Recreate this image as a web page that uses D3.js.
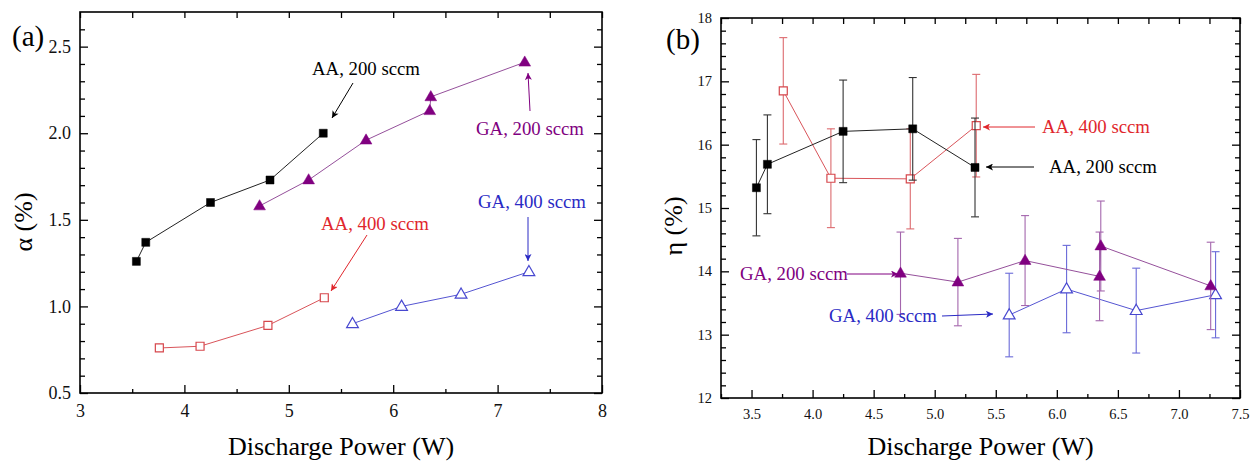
<!DOCTYPE html>
<html>
<head>
<meta charset="utf-8">
<script src="https://cdn.jsdelivr.net/npm/d3@7/dist/d3.min.js"></script>
<style>
  html, body { margin: 0; padding: 0; background: #fff; }
  svg { display: block; font-family: "Liberation Serif", "Times New Roman", serif; }
</style>
</head>
<body>
<svg id="chart" width="1258" height="462"></svg>
<script>
// ---- Data: discharge power (W) for each series ----
const powerAA200 = [3.54, 3.63, 4.25, 4.82, 5.33];
const powerAA400 = [3.76, 4.15, 4.80, 5.34];
const powerGA200 = [4.72, 5.19, 5.74, 6.35, 6.36, 7.26];
const powerGA400 = [5.61, 6.08, 6.65, 7.30];

// alpha (%) per series
const alphaAA200 = [1.26, 1.37, 1.60, 1.73, 2.00];
const alphaAA400 = [0.76, 0.77, 0.89, 1.05];
const alphaGA200 = [1.58, 1.73, 1.96, 2.13, 2.21, 2.41];
const alphaGA400 = [0.90, 1.00, 1.07, 1.20];

// eta (%) per series, with error bar half-widths
const etaAA200 = [15.32, 15.69, 16.21, 16.25, 15.64];
const etaErrAA200 = [0.76, 0.78, 0.81, 0.81, 0.78];
const etaAA400 = [16.85, 15.47, 15.46, 16.30];
const etaErrAA400 = [0.84, 0.78, 0.79, 0.81];
const etaGA200 = [13.97, 13.83, 14.17, 13.92, 14.40, 13.77];
const etaErrGA200 = [0.65, 0.69, 0.71, 0.70, 0.71, 0.69];
const etaGA400 = [13.31, 13.72, 13.38, 13.63];
const etaErrGA400 = [0.66, 0.69, 0.67, 0.68];

// tick labels
const alphaXTicks = [3, 4, 5, 6, 7, 8];
const alphaYTicks = [0.5, 1.0, 1.5, 2.0, 2.5];
const etaXTicks = [3.5, 4.0, 4.5, 5.0, 5.5, 6.0, 6.5, 7.0, 7.5];
const etaYTicks = [12, 13, 14, 15, 16, 17, 18];

const seriesLabels = ["AA, 200 sccm", "AA, 400 sccm", "GA, 200 sccm", "GA, 400 sccm"];

// ---- Styling ----
const C = {
  black: { mark: "#000", line: "#222", text: "#000", err: "#333" },
  red:   { mark: "#d6474c", line: "#d9545a", text: "#e0262c", err: "#dc6a6e" },
  purple:{ mark: "#800080", line: "#95509b", text: "#800080", err: "#a466ad" },
  blue:  { mark: "#4848d0", line: "#5555d2", text: "#2a2ac4", err: "#6a6ad8" }
};

const svg = d3.select("#chart");
const defs = svg.append("defs");
Object.entries(C).forEach(([k, c]) => {
  defs.append("marker")
    .attr("id", "arrow-" + k)
    .attr("viewBox", "0 0 10 10")
    .attr("refX", 10).attr("refY", 5)
    .attr("markerWidth", 9).attr("markerHeight", 7)
    .attr("markerUnits", "userSpaceOnUse")
    .attr("orient", "auto")
    .append("path").attr("d", "M0,0 L10,5 L0,10 L2.5,5 Z").attr("fill", c.text);
});

function drawAxes(g, x, y, o) {
  const w = x.range()[1], h = y.range()[0];
  const clean = s => { s.select(".domain").remove(); s.selectAll("line").attr("stroke", "#000").attr("stroke-width", 1.3); };
  // bottom
  g.append("g").attr("transform", `translate(0,${h})`)
    .call(d3.axisBottom(x).tickValues(o.xMinor).tickSize(-4).tickSizeOuter(0).tickFormat(""))
    .call(clean);
  g.append("g").attr("transform", `translate(0,${h})`)
    .call(d3.axisBottom(x).tickValues(o.xTicks).tickSize(-8).tickSizeOuter(0).tickPadding(o.xPad).tickFormat(o.xFmt))
    .call(clean)
    .call(s => s.selectAll("text").attr("font-size", o.fs).attr("fill", "#111").attr("font-family", "Liberation Serif, serif"));
  // top
  g.append("g")
    .call(d3.axisTop(x).tickValues(o.xMinor.concat(o.xTicks)).tickSize(-6).tickSizeOuter(0).tickFormat(""))
    .call(clean);
  // left
  g.append("g")
    .call(d3.axisLeft(y).tickValues(o.yMinor).tickSize(-5).tickSizeOuter(0).tickFormat(""))
    .call(clean);
  g.append("g")
    .call(d3.axisLeft(y).tickValues(o.yTicks).tickSize(-8).tickSizeOuter(0).tickPadding(o.yPad).tickFormat(o.yFmt))
    .call(clean)
    .call(s => s.selectAll("text").attr("font-size", o.fs).attr("fill", "#111").attr("font-family", "Liberation Serif, serif"));
  // right
  g.append("g").attr("transform", `translate(${w},0)`)
    .call(d3.axisRight(y).tickValues(o.yMinor).tickSize(-5).tickSizeOuter(0).tickFormat(""))
    .call(clean);
  g.append("g").attr("transform", `translate(${w},0)`)
    .call(d3.axisRight(y).tickValues(o.yTicks).tickSize(-8).tickSizeOuter(0).tickFormat(""))
    .call(clean);
  g.append("rect").attr("x", 0).attr("y", 0).attr("width", w).attr("height", h)
    .attr("fill", "none").attr("stroke", "#000").attr("stroke-width", 1.6);
}

function drawSeries(g, x, y, xs, ys, errs, col, shape, filled) {
  const pts = xs.map((v, i) => [v, ys[i], errs ? errs[i] : 0]);
  g.append("path").datum(pts)
    .attr("d", d3.line().x(d => x(d[0])).y(d => y(d[1])))
    .attr("fill", "none").attr("stroke", col.line).attr("stroke-width", 1);
  if (errs) {
    const eg = g.append("g").attr("stroke", col.err).attr("stroke-width", 1.1);
    pts.forEach(d => {
      const cx = x(d[0]), t = y(d[1] + d[2]), b = y(d[1] - d[2]);
      eg.append("line").attr("x1", cx).attr("x2", cx).attr("y1", t).attr("y2", b);
      eg.append("line").attr("x1", cx - 4).attr("x2", cx + 4).attr("y1", t).attr("y2", t);
      eg.append("line").attr("x1", cx - 4).attr("x2", cx + 4).attr("y1", b).attr("y2", b);
    });
  }
  const sym = d3.symbol().type(shape === "square" ? d3.symbolSquare : d3.symbolTriangle)
    .size(shape === "square" ? 64 : 60);
  g.selectAll(null).data(pts).join("path")
    .attr("transform", d => `translate(${x(d[0])},${y(d[1]) + (shape === "square" ? 0 : 0.5)})`)
    .attr("d", sym)
    .attr("fill", filled ? col.mark : "#fff")
    .attr("stroke", col.mark).attr("stroke-width", filled ? 0.5 : 1.2);
}

function note(g, text, tx, ty, col, x1, y1, x2, y2, key) {
  g.append("line").attr("x1", x1).attr("y1", y1).attr("x2", x2).attr("y2", y2)
    .attr("stroke", col.text).attr("stroke-width", 1)
    .attr("marker-end", `url(#arrow-${key})`);
  g.append("text").attr("x", tx).attr("y", ty).attr("font-size", 18.8)
    .attr("fill", col.text).text(text);
}

// ---------------- Panel (a): alpha ----------------
{
  const L = 80, T = 12, R = 602, B = 393;
  const g = svg.append("g").attr("transform", `translate(${L},${T})`);
  const x = d3.scaleLinear().domain([3, 8]).range([0, R - L]);
  const y = d3.scaleLinear().domain([0.5, 2.7]).range([B - T, 0]);

  drawSeries(g, x, y, powerAA200, alphaAA200, null, C.black, "square", true);
  drawSeries(g, x, y, powerAA400, alphaAA400, null, C.red, "square", false);
  drawSeries(g, x, y, powerGA200, alphaGA200, null, C.purple, "triangle", true);
  drawSeries(g, x, y, powerGA400, alphaGA400, null, C.blue, "triangle", false);

  drawAxes(g, x, y, {
    xTicks: alphaXTicks, xMinor: d3.range(3.5, 8, 1), xFmt: d3.format("d"), xPad: 11,
    yTicks: alphaYTicks, yMinor: d3.range(0.6, 2.7, 0.1).filter(v => Math.abs(v * 2 - Math.round(v * 2)) > 1e-6),
    yFmt: d3.format(".1f"), yPad: 9, fs: 18
  });

  const a = svg.append("g");
  note(a, seriesLabels[0], 312, 75, C.black, 353, 83, 332, 118, "black");
  note(a, seriesLabels[2], 476, 135, C.purple, 530, 111, 528, 73, "purple");
  note(a, seriesLabels[3], 478, 208, C.blue, 528, 217, 528, 261, "blue");
  note(a, seriesLabels[1], 321, 230, C.red, 367, 235, 331, 291, "red");

  svg.append("text").attr("x", 12).attr("y", 46).attr("font-size", 29).text("(a)");
  svg.append("text").attr("x", (L + R) / 2).attr("y", 455).attr("text-anchor", "middle")
    .attr("font-size", 26).text("Discharge Power (W)");
  svg.append("text").attr("transform", "translate(32,222) rotate(-90)").attr("text-anchor", "middle")
    .attr("font-size", 26).text("α (%)");
}

// ---------------- Panel (b): eta ----------------
{
  const L = 721, T = 18, R = 1240, B = 398;
  const g = svg.append("g").attr("transform", `translate(${L},${T})`);
  const x = d3.scaleLinear().domain([3.25, 7.5]).range([0, R - L]);
  const y = d3.scaleLinear().domain([12, 18]).range([B - T, 0]);

  drawSeries(g, x, y, powerAA400, etaAA400, etaErrAA400, C.red, "square", false);
  drawSeries(g, x, y, powerAA200, etaAA200, etaErrAA200, C.black, "square", true);
  drawSeries(g, x, y, powerGA400, etaGA400, etaErrGA400, C.blue, "triangle", false);
  drawSeries(g, x, y, powerGA200, etaGA200, etaErrGA200, C.purple, "triangle", true);

  drawAxes(g, x, y, {
    xTicks: etaXTicks, xMinor: d3.range(3.25, 7.5, 0.5), xFmt: d3.format(".1f"), xPad: 11,
    yTicks: etaYTicks, yMinor: d3.range(12.2, 18, 0.2).filter(v => Math.abs(v - Math.round(v)) > 1e-6),
    yFmt: d3.format("d"), yPad: 9, fs: 14.5
  });

  const a = svg.append("g");
  note(a, seriesLabels[1], 1042, 133, C.red, 1035, 127, 983, 127, "red");
  note(a, seriesLabels[0], 1049, 173, C.black, 1034, 167, 986, 167, "black");
  note(a, seriesLabels[2], 740, 280, C.purple, 847, 274, 898, 274, "purple");
  note(a, seriesLabels[3], 829, 322, C.blue, 942, 316, 993, 314, "blue");

  svg.append("text").attr("x", 666).attr("y", 49).attr("font-size", 29).text("(b)");
  svg.append("text").attr("x", (L + R) / 2).attr("y", 455).attr("text-anchor", "middle")
    .attr("font-size", 26).text("Discharge Power (W)");
  svg.append("text").attr("transform", "translate(682,226) rotate(-90)").attr("text-anchor", "middle")
    .attr("font-size", 26).text("η (%)");
}
</script>
</body>
</html>
